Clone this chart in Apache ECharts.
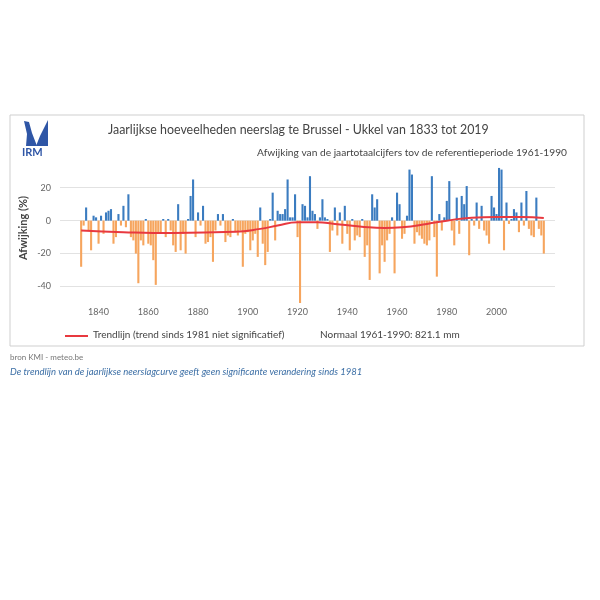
<!DOCTYPE html>
<html>
<head>
<meta charset="utf-8">
<script src="https://cdn.jsdelivr.net/npm/echarts@6/dist/echarts.min.js"></script>
<style>
html,body{margin:0;padding:0;background:#fff;}
#chart{width:600px;height:600px;}
</style>
</head>
<body>
<div id="chart"></div>
<script>
// Years 1833..2019
var startYear = 1833;
var deviation = [
// 1833-1861
-28,-3,8,-6,-18,3,2,-14,3,-8,5,6,7,-14,-10,4,-3,9,-4,16,-10,-12,-20,-38,-12,-15,1,-14,-15,
// 1862-1893
-24,-39,-8,-7,1,-10,1,-6,-15,-19,10,-18,-8,-20,1,15,25,-10,5,-3,9,-14,-13,-10,-25,-6,4,-3,4,-13,-9,-10,
// 1894-1925
1,-7,-9,-6,-28,-8,-7,-18,-12,-8,-22,8,-14,-27,-19,1,17,-12,6,4,4,7,25,2,2,16,-10,-50,10,9,2,27,
// 1926-1958
6,4,-5,2,13,2,1,-19,-6,8,-9,5,-14,9,-8,-18,1,-12,-9,-10,1,-22,-15,-36,16,8,13,-32,-15,-25,-12,-8,2,
// 1959-1989
-32,17,10,-11,-8,3,31,28,-14,-7,-9,-11,-14,-15,-12,27,-10,-34,4,-6,2,12,24,-6,-15,14,-8,15,10,21,-21,
// 1990-2019
1,-3,11,-5,9,-6,-9,-14,15,8,4,32,31,-18,11,-2,1,7,5,-7,11,-3,18,-5,-9,-10,14,-5,-9,-20
];
var trendYears  = [1833,1850,1870,1895,1905,1912,1920,1928,1935,1945,1955,1962,1972,1980,1990,2000,2010,2019];
var trendValues = [-6,-7,-7.5,-6.8,-5,-3,-1,-1,-2,-3.5,-4.5,-4,-2,0,1.8,2.2,2.2,1.6];
var yTicks = [-40,-20,0,20];
var xTicks = [1840,1860,1880,1900,1920,1940,1960,1980,2000];

var titleText = 'Jaarlijkse hoeveelheden neerslag te Brussel - Ukkel van 1833 tot 2019';
var subText = 'Afwijking van de jaartotaalcijfers tov de referentieperiode 1961-1990';
var legendTrend = 'Trendlijn (trend sinds 1981 niet significatief)';
var legendNormal = 'Normaal 1961-1990: 821.1 mm';
var sourceText = 'bron KMI - meteo.be';
var noteText = 'De trendlijn van de jaarlijkse neerslagcurve geeft geen significante verandering sinds 1981';

var barData = deviation.map(function(v, i){ return [startYear + i, v]; });
var trendData = trendYears.map(function(y, i){ return [y, trendValues[i]]; });

var FONT = 'Lato, "Open Sans", sans-serif';
var chart = echarts.init(document.getElementById('chart'));
chart.setOption({
  backgroundColor: '#fff',
  animation: false,
  grid: {left: 60, top: 163, width: 495, height: 140},
  xAxis: {
    type: 'value', min: 1824.5, max: 2023.5,
    axisLine: {show: false}, axisTick: {show: false}, splitLine: {show: false},
    axisLabel: {customValues: xTicks, color: '#666', fontSize: 9, fontFamily: FONT, margin: 5,
      formatter: function(v){ return String(Math.round(v)); }}
  },
  yAxis: {
    type: 'value', min: -50, max: 35,
    axisLine: {show: false},
    axisTick: {show: false, customValues: yTicks},
    axisLabel: {customValues: yTicks, color: '#666', fontSize: 9, fontFamily: FONT, margin: 9},
    splitLine: {show: true, lineStyle: {color: '#e2e2e2', width: 1}}
  },
  series: [
    {
      type: 'bar', data: barData, barWidth: 2.1,
      itemStyle: {color: function(p){ return p.value[1] >= 0 ? '#3b7cc0' : '#f6a55e'; }}
    },
    {
      type: 'line', data: trendData, smooth: true, symbol: 'none',
      lineStyle: {color: '#e8393f', width: 2}, z: 5
    }
  ],
  graphic: [
    {type: 'rect', shape: {x: 10, y: 115, width: 574, height: 231}, style: {fill: 'none', stroke: '#cfcfcf', lineWidth: 1}, silent: true},
    {type: 'polygon', shape: {points: [[24,121],[29,122],[32,133],[37,146],[26,146],[27,134]]}, style: {fill: '#2f56a6'}},
    {type: 'polygon', shape: {points: [[48,120],[48,146],[36,146],[40,136]]}, style: {fill: '#2f56a6'}},
    {type: 'text', left: 22, top: 147, style: {text: 'IRM', fill: '#2f56a6', font: 'bold 11px ' + FONT}},
    {type: 'text', left: 108, top: 124, style: {text: titleText, fill: '#444', font: '12.4px ' + FONT}},
    {type: 'text', right: 33, top: 148, style: {text: subText, fill: '#444', font: '10.2px ' + FONT}},
    {type: 'text', x: 23, y: 228, rotation: Math.PI/2, style: {text: 'Afwijking (%)', fill: '#444', font: 'bold 11px ' + FONT, align: 'center', verticalAlign: 'middle'}},
    {type: 'line', shape: {x1: 65, y1: 336, x2: 88, y2: 336}, style: {stroke: '#e8393f', lineWidth: 2}},
    {type: 'text', left: 93, top: 330, style: {text: legendTrend, fill: '#444', font: '10px ' + FONT}},
    {type: 'text', left: 320, top: 330, style: {text: legendNormal, fill: '#444', font: '10px ' + FONT}},
    {type: 'text', left: 10, top: 353, style: {text: sourceText, fill: '#777', font: '8px ' + FONT}},
    {type: 'text', left: 10, top: 367, style: {text: noteText, fill: '#3b6ea5', font: 'italic 9.5px ' + FONT}}
  ]
});
</script>
</body>
</html>
